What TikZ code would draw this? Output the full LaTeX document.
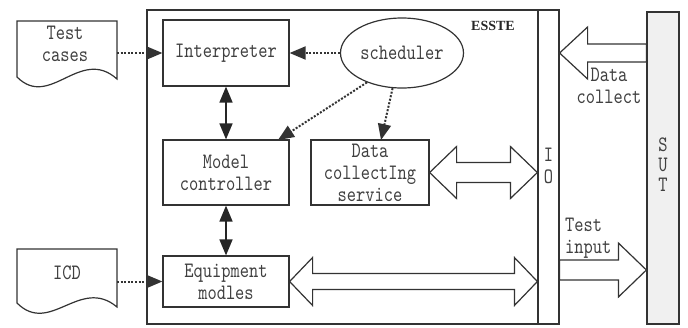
\documentclass[tikz,border=0pt]{standalone}
\usepackage{fontspec}
\setmainfont{Liberation Serif}
\newfontfamily\diagmono[FakeStretch=0.8]{lmmono10-regular.otf}
\newcommand{\mydiagfont}{\diagmono\fontsize{22}{22}\selectfont}
\usetikzlibrary{arrows.meta,calc,shapes.geometric}
\begin{document}
\begin{tikzpicture}[x=1pt,y=-1pt,
  ln/.style={draw=black!80, line width=1.2pt},
  box/.style={ln, rectangle, inner sep=0pt, align=center, font=\mydiagfont, text=black!75},
  txt/.style={inner sep=0pt, align=center, font=\mydiagfont, text=black!75},
  dotarrow/.style={line width=2pt, dash pattern=on 2pt off 1.6pt, black!80, -{Triangle[length=16pt,width=13pt]}},
  solidarrow/.style={line width=1.6pt, black!85, {Triangle[length=16pt,width=13pt]}-{Triangle[length=16pt,width=13pt]}},
  hollow/.style={ln, fill=white, line join=miter}
]
\useasboundingbox (0,0) rectangle (688,327);

% outer ESSTE box and side bars
\node[ln, rectangle, inner sep=0pt, minimum width=412pt, minimum height=314pt] (esste) at (353,167) {};
\node[inner sep=0pt, font=\bfseries\fontsize{14}{14}\selectfont, text=black!85] (essteLabel) at (493,26) {ESSTE};
\node[ln, rectangle, inner sep=0pt, minimum width=21pt, minimum height=314pt] (io) at (548.5,167) {};
\node[txt] (ioI) at (548.5,155) {I};
\node[txt] (ioO) at (548.5,177) {O};
\node[ln, rectangle, fill=gray!12, inner sep=0pt, minimum width=32pt, minimum height=312pt] (sut) at (663,168) {};
\node[txt] (sutS) at (663,145) {S};
\node[txt] (sutU) at (663,165) {U};
\node[txt] (sutT) at (663,185) {T};

% inner boxes
\node[box, minimum width=126pt, minimum height=66pt] (interp) at (226,53) {Interpreter};
\node[box, minimum width=126pt, minimum height=65pt] (mc) at (226,172.5) {Model\\controller};
\node[box, minimum width=118pt, minimum height=65pt] (dcs) at (370,172.5) {Data\\collectIng\\service};
\node[box, minimum width=126pt, minimum height=51pt] (eq) at (226,281.5) {Equipment\\modles};
\node[ln, ellipse, inner sep=0pt, minimum width=123pt, minimum height=70pt, font=\mydiagfont, text=black!75] (sched) at (402,53) {scheduler};

% documents
\draw[ln, fill=white] (17,21) -- (117,21) -- (117,79) .. controls (80,46) and (50,110) .. (17,77) -- cycle;
\node[txt] (tc) at (65,44) {Test\\cases};
\coordinate (tcR) at (117,53);
\draw[ln, fill=white] (17,249) -- (117,249) -- (117,307) .. controls (80,276) and (50,336) .. (17,303) -- cycle;
\node[txt] (icd) at (67,273) {ICD};
\coordinate (icdR) at (117,281.5);

% dotted arrows
\draw[dotarrow] (tcR) -- (interp.west);
\draw[dotarrow] (icdR) -- (eq.west);
\draw[dotarrow] (sched.west) -- (interp.east);
\coordinate (mcIn) at (278,140);
\draw[dotarrow] (sched.220) -- (mcIn);
\coordinate (dcsIn) at (381,140);
\draw[dotarrow] (sched.255) -- (dcsIn);

% solid double arrows
\draw[solidarrow] (interp.south) -- (mc.north);
\draw[solidarrow] (mc.south) -- (eq.north);

% hollow arrows
\draw[hollow] (dcs.east) -- ++(27,-26) -- ++(0,16) -- ($(io.west |- dcs.east)+(-27,-10)$) -- ++(0,-16) -- (io.west |- dcs.east) -- ++(-27,26) -- ++(0,-16) -- ($(dcs.east)+(27,10)$) -- ++(0,16) -- cycle;
\draw[hollow] (eq.east) -- ++(23,-24) -- ++(0,16) -- ($(io.west |- eq.east)+(-23,-8)$) -- ++(0,-16) -- (io.west |- eq.east) -- ++(-23,24) -- ++(0,-16) -- ($(eq.east)+(23,8)$) -- ++(0,16) -- cycle;
\coordinate (dcTip) at (io.east |- 0,53);
\draw[hollow] (dcTip) -- ++(28,-26) -- ++(0,17) -- ($(sut.west |- dcTip)+(0,-9)$) -- ++(0,18) -- ($(dcTip)+(28,9)$) -- ++(0,17) -- cycle;
\coordinate (tiTail) at (io.east |- 0,270);
\coordinate (tiTip) at (sut.west |- 0,270);
\draw[hollow] ($(tiTail)+(0,-10)$) -- ($(tiTip)+(-28,-10)$) -- ++(0,-17) -- (tiTip) -- ++(-28,27) -- ++(0,-17) -- ($(tiTail)+(0,10)$) -- cycle;

% labels
\node[txt] (dcLabel) at (609,86) {Data\\collect};
\node[txt, align=left, anchor=west] (tiLabel) at (565,238) {Test\\input};
\end{tikzpicture}
\end{document}
